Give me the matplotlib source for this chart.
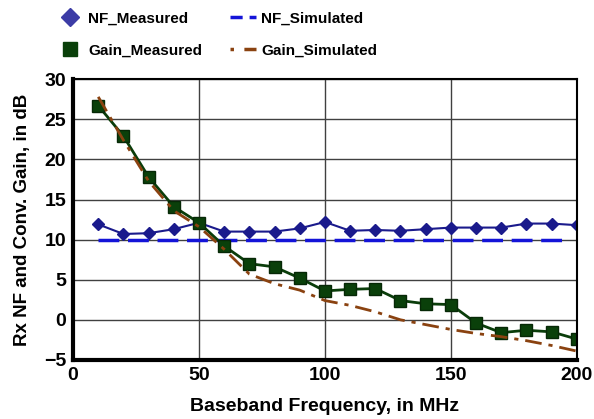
import numpy as np
import matplotlib.pyplot as plt
from matplotlib.lines import Line2D

plt.rcParams['font.family'] = ['Liberation Sans', 'DejaVu Sans']
plt.rcParams['font.weight'] = 'bold'

freq = [10, 20, 30, 40, 50, 60, 70, 80, 90, 100,
        110, 120, 130, 140, 150, 160, 170, 180, 190, 200]
nf_measured = [11.9, 10.7, 10.8, 11.3, 12.1, 11.0, 11.0, 11.0, 11.4, 12.2,
               11.1, 11.2, 11.1, 11.3, 11.5, 11.5, 11.5, 12.0, 12.0, 11.8]
gain_measured = [26.7, 22.9, 17.8, 14.1, 12.1, 9.2, 7.0, 6.6, 5.2, 3.6,
                 3.8, 3.9, 2.4, 2.0, 1.9, -0.4, -1.6, -1.3, -1.5, -2.4]
nf_sim_freq = [10, 195]
nf_simulated = [10.0, 10.0]
gain_simulated = [27.8, 22.4, 17.3, 13.6, 11.6, 8.8, 5.7, 4.5, 3.7, 2.4,
                  1.8, 1.0, 0.0, -0.6, -1.2, -1.7, -2.1, -2.6, -3.2, -3.9]

fig = plt.figure(figsize=(5.94, 4.19), dpi=100)
ax = fig.add_axes([0.123, 0.141, 0.848, 0.670])

nf_col = '#1a1a8c'
sim_col = '#1414d8'
gain_col = '#0a3d0a'
gsim_col = '#8a4210'
sim_dash = (6, 2.5)
gsim_dash = (6, 2.5, 1.5, 2.5)

ax.plot(freq, nf_measured, color=nf_col, lw=1.5, marker='D', ms=6)
ax.plot(nf_sim_freq, nf_simulated, color=sim_col, lw=2.5, dashes=sim_dash)
ax.plot(freq, gain_measured, color=gain_col, lw=2, marker='s', ms=8,
        markerfacecolor='#0a400a', markeredgecolor='#062806')
ax.plot(freq, gain_simulated, color=gsim_col, lw=2, dashes=gsim_dash)

ax.set_xlim(0, 200)
ax.set_ylim(-5, 30)
ax.set_xticks([0, 50, 100, 150, 200])
ax.set_yticks(np.arange(-5, 31, 5))
ax.grid(True, color='#404040', lw=1)
ax.set_axisbelow(True)
ax.tick_params(length=0, labelsize=14, pad=5)
for lab in ax.get_xticklabels() + ax.get_yticklabels():
    lab.set_fontweight('bold')

for side in ['top', 'right']:
    ax.spines[side].set_linewidth(1.5)
for side in ['left', 'bottom']:
    ax.spines[side].set_linewidth(3)

ax.set_xlabel('Baseband Frequency, in MHz', fontsize=14, fontweight='bold',
              labelpad=10)
ax.set_ylabel('Rx NF and Conv. Gain, in dB', fontsize=13.5, fontweight='bold',
              labelpad=9)

handles = [
    Line2D([], [], ls='none', marker='D', ms=9, color='#3c3ca6'),
    Line2D([], [], ls='none', marker='s', ms=10, color='#0a400a'),
    Line2D([], [], color=sim_col, lw=2.5, dashes=(3.5, 2)),
    Line2D([], [], color=gsim_col, lw=2.5, dashes=(1, 3, 8, 0)),
]
labels = ['NF_Measured', 'Gain_Measured', 'NF_Simulated', 'Gain_Simulated']
fig.legend(handles, labels, loc='upper left', bbox_to_anchor=(0.073, 1.005),
           ncol=2, frameon=False, handlelength=1.7, handletextpad=0.35,
           columnspacing=1.8, labelspacing=1.15,
           prop={'weight': 'bold', 'size': 11})

fig.savefig('out.png', dpi=100)
